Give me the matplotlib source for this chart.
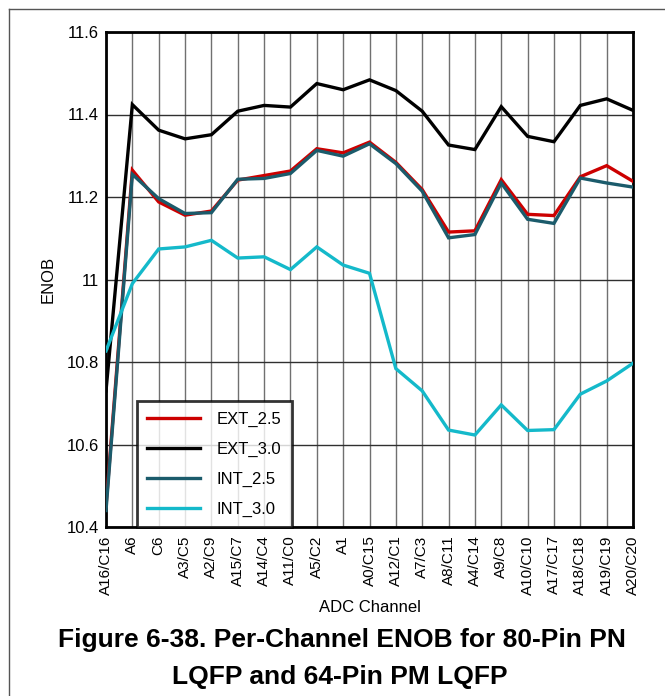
import matplotlib
matplotlib.use("Agg")
import matplotlib.pyplot as plt
from matplotlib.lines import Line2D
from matplotlib import font_manager

plt.rcParams['font.family'] = ['Liberation Sans', 'DejaVu Sans']

channels = ["A16/C16", "A6", "C6", "A3/C5", "A2/C9", "A15/C7", "A14/C4", "A11/C0",
            "A5/C2", "A1", "A0/C15", "A12/C1", "A7/C3", "A8/C11", "A4/C14", "A9/C8",
            "A10/C10", "A17/C17", "A18/C18", "A19/C19", "A20/C20"]

ext_2_5 = [10.45, 11.265, 11.188, 11.156, 11.166, 11.241, 11.252, 11.263, 11.317, 11.307,
           11.333, 11.284, 11.218, 11.115, 11.118, 11.242, 11.158, 11.155, 11.249, 11.276, 11.238]
ext_3_0 = [10.73, 11.424, 11.362, 11.341, 11.351, 11.408, 11.422, 11.418, 11.475, 11.460,
           11.484, 11.458, 11.408, 11.326, 11.315, 11.419, 11.347, 11.334, 11.422, 11.438, 11.410]
int_2_5 = [10.44, 11.255, 11.196, 11.160, 11.162, 11.243, 11.245, 11.257, 11.313, 11.299,
           11.329, 11.281, 11.214, 11.101, 11.109, 11.234, 11.146, 11.136, 11.246, 11.234, 11.224]
int_3_0 = [10.827, 10.990, 11.074, 11.079, 11.095, 11.052, 11.055, 11.024, 11.079, 11.035,
           11.015, 10.784, 10.730, 10.635, 10.623, 10.696, 10.634, 10.636, 10.722, 10.754, 10.797]

yticks = [10.4, 10.6, 10.8, 11.0, 11.2, 11.4, 11.6]
ytick_labels = ["10.4", "10.6", "10.8", "11", "11.2", "11.4", "11.6"]

series = [("EXT_2.5", ext_2_5, "#cc0000"),
          ("EXT_3.0", ext_3_0, "#000000"),
          ("INT_2.5", int_2_5, "#1b5b6b"),
          ("INT_3.0", int_3_0, "#14b9ca")]

fig = plt.figure(figsize=(6.65, 6.96), dpi=100)
ax = fig.add_axes([106/665, 1-527/696, (633-106)/665, (527-32)/696])

x = list(range(len(channels)))
handles = []
for name, vals, col in series:
    ax.plot(x, vals, color=col, lw=2.4, solid_joinstyle='miter', zorder=3)
    handles.append(Line2D([0], [0], color=col, lw=2.4))

ax.set_xlim(0, len(channels) - 1)
ax.set_ylim(10.4, 11.6)
ax.set_xticks(x)
ax.set_xticklabels(channels, rotation=90, fontsize=11)
ax.set_yticks(yticks)
ax.set_yticklabels(ytick_labels, fontsize=12)
ax.tick_params(axis='x', length=0, pad=6)
ax.tick_params(axis='y', length=0, pad=5)
ax.grid(True, axis='x', color='#707070', lw=1.0, zorder=1)
ax.grid(True, axis='y', color='#303030', lw=1.0, zorder=1)
for s in ax.spines.values():
    s.set_linewidth(2.0)
    s.set_color('black')

ax.set_xlabel("ADC Channel", fontsize=12, labelpad=4)
ax.set_ylabel("ENOB", fontsize=12, labelpad=8)

leg = ax.legend(handles, [s[0] for s in series], loc='lower left',
                bbox_to_anchor=((137-106)/527, 0.0), fontsize=12,
                frameon=True, fancybox=False, edgecolor='black',
                handlelength=3.2, handletextpad=1.0,
                labelspacing=0.9, borderpad=0.6, borderaxespad=0.0)
leg.get_frame().set_linewidth(2.0)
leg.set_zorder(5)

names = {f.name for f in font_manager.fontManager.ttflist}
if 'Liberation Sans Narrow' in names:
    tfam, tsize = ['Liberation Sans Narrow', 'Liberation Sans'], 23
else:
    tfam, tsize = ['Liberation Sans', 'DejaVu Sans'], 19

fig.text(342/665, 1-640/696, "Figure 6-38. Per-Channel ENOB for 80-Pin PN",
         ha='center', va='center', fontsize=tsize, fontweight='bold', family=tfam)
fig.text(340/665, 1-677/696, "LQFP and 64-Pin PM LQFP",
         ha='center', va='center', fontsize=tsize, fontweight='bold', family=tfam)

# outer frame (left and top edges)
fig.add_artist(Line2D([9/665, 9/665], [0, 1-9/696], transform=fig.transFigure,
                      color='#555555', lw=1.0))
fig.add_artist(Line2D([9/665, 1], [1-9/696, 1-9/696], transform=fig.transFigure,
                      color='#555555', lw=1.0))

fig.savefig("out.png", dpi=100)
